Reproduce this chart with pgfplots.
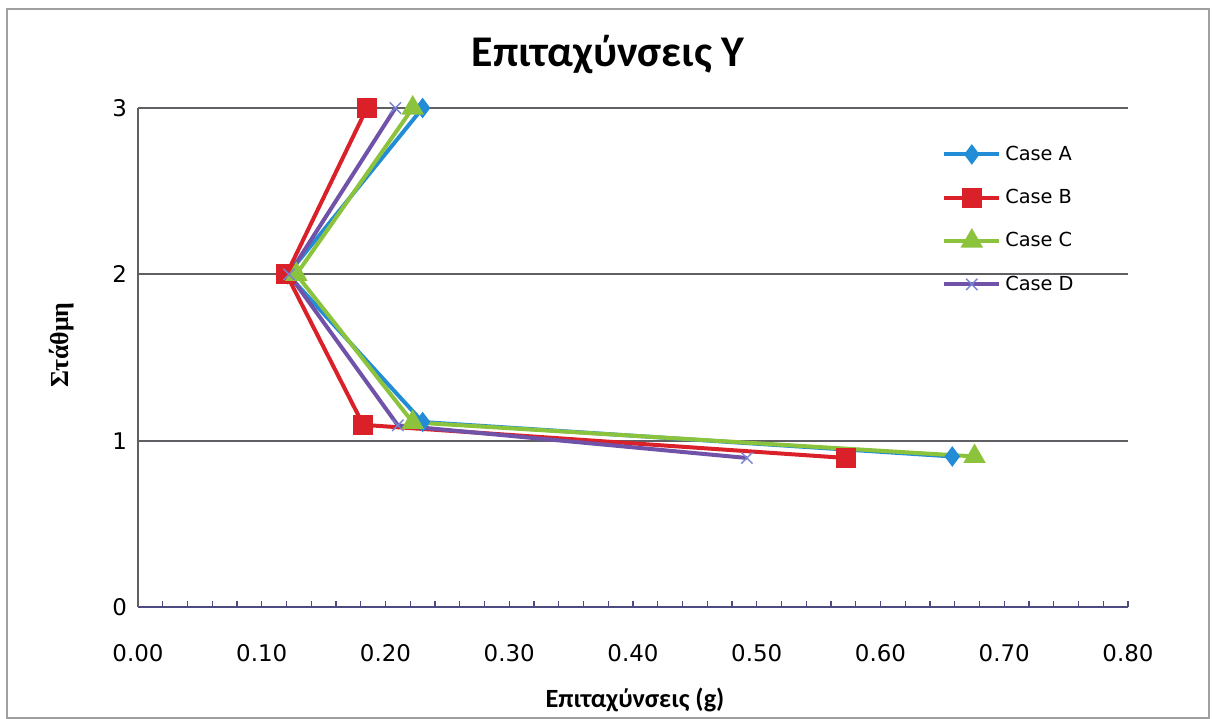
\documentclass[border=0pt]{standalone}
\usepackage{fontspec}
\setmainfont{Carlito}
\newfontfamily\tickfont{DejaVu Sans}
\newfontfamily\ylabfont{Liberation Serif}
\usepackage{pgfplots}
\pgfplotsset{compat=1.18}
\definecolor{cA}{RGB}{35,140,215}
\definecolor{cB}{RGB}{218,32,40}
\definecolor{cC}{RGB}{140,195,60}
\definecolor{cD}{RGB}{112,82,168}
\definecolor{cDm}{RGB}{120,130,210}
\definecolor{gridc}{RGB}{95,95,100}
\begin{document}
\begin{tikzpicture}
\useasboundingbox (-69bp,-56bp) rectangle (537bp,303.5bp);
\draw[gray!75, line width=1bp] (-65.5bp,-55.5bp) rectangle (535.5bp,299bp);
\begin{axis}[
  at={(0,0)}, anchor=south west,
  scale only axis, width=495bp, height=249.5bp,
  xmin=0, xmax=0.8, ymin=0, ymax=3,
  enlargelimits=false, clip=false,
  axis lines*=left,
  axis line style={-},
  x axis line style={draw=gridc!80!blue, line width=1bp},
  y axis line style={draw=gridc, line width=1bp},
  xtick={0,0.1,0.2,0.3,0.4,0.5,0.6,0.7,0.8},
  xticklabels={0.00,0.10,0.20,0.30,0.40,0.50,0.60,0.70,0.80},
  minor x tick num=4,
  ytick={0,1,2,3},
  yticklabels={0,1,2,3},
  tick align=inside,
  major tick length=3bp, minor tick length=3bp,
  xtick style={draw=gridc!80!blue, line width=0.6bp},
  minor x tick style={draw=gridc!80!blue, line width=0.6bp},
  ytick style={draw=none},
  ymajorgrids,
  grid style={draw=gridc, line width=1bp},
  xticklabel style={font=\tickfont\fontsize{11.5}{13}\selectfont, yshift=-15bp},
  yticklabel style={font=\tickfont\fontsize{11.5}{13}\selectfont, xshift=-2bp},
  title={Επιταχύνσεις Y},
  title style={at={(axis description cs:0.475,1.084)}, anchor=center, font=\bfseries\fontsize{22}{26}\selectfont},
  xlabel={Επιταχύνσεις (g)},
  xlabel style={at={(axis description cs:0.502,-0.186)}, anchor=center, font=\bfseries\fontsize{13.2}{15}\selectfont},
  ylabel={Στάθμη},
  ylabel style={at={(axis description cs:-0.0768,0.525)}, anchor=center, font=\ylabfont\bfseries\fontsize{13}{15}\selectfont},
  legend style={draw=none, fill=none, at={(axis description cs:0.806,0.941)}, anchor=north west,
    font=\tickfont\fontsize{9.7}{11}\selectfont, row sep=9bp, cells={anchor=west}},
  legend cell align=left,
  legend image code/.code={\draw[mark repeat=2,mark phase=2] plot coordinates {(0bp,0bp) (13.75bp,0bp) (27.5bp,0bp)};},
]
\addplot[cA, line width=2bp, mark=diamond*, mark size=3.5bp, mark options={solid}] coordinates {
 (0.658,0.905) (0.230,1.112) (0.121,2.0) (0.230,3.0)};
\addlegendentry{Case A}
\addplot[cB, line width=2bp, mark=square*, mark size=4bp] coordinates {
 (0.572,0.896) (0.182,1.095) (0.120,2.0) (0.185,3.0)};
\addlegendentry{Case B}
\addplot[cC, line width=2bp, mark=triangle*, mark size=4.5bp] coordinates {
 (0.676,0.905) (0.222,1.110) (0.128,2.0) (0.222,3.0)};
\addlegendentry{Case C}
\addplot[cD, line width=2bp, mark=x, mark size=4bp, mark options={draw=cDm, line width=0.7bp}] coordinates {
 (0.492,0.896) (0.210,1.092) (0.122,2.0) (0.208,3.0)};
\addlegendentry{Case D}
\end{axis}
\end{tikzpicture}
\end{document}
